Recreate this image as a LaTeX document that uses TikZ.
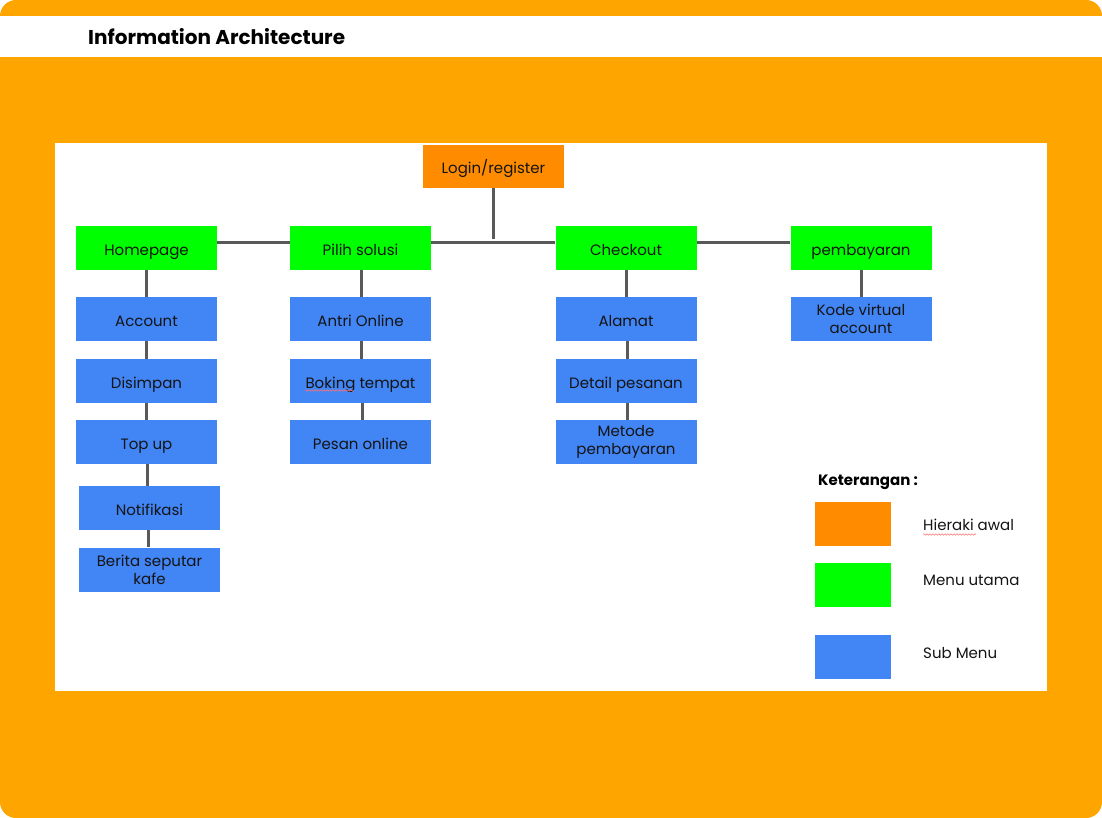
\documentclass[tikz,border=0pt]{standalone}
\usepackage{fontspec}
\setmainfont{Poppins}
\usetikzlibrary{decorations.pathmorphing}
\definecolor{frame}{HTML}{FFA500}
\definecolor{hier}{HTML}{FF8C00}
\definecolor{menu}{HTML}{00FF00}
\definecolor{sub}{HTML}{4285F4}
\definecolor{conn}{HTML}{595959}
\definecolor{txt}{HTML}{141414}
\begin{document}
\begin{tikzpicture}[x=1pt,y=-1pt,
 box/.style={rectangle, minimum width=141pt, minimum height=44pt, inner sep=0pt, align=center, font=\fontsize{15}{18}\selectfont, text=txt},
 one/.style={text height=15.5pt, text depth=1.5pt},
 hbox/.style={box, fill=hier},
 mbox/.style={box, fill=menu},
 sbox/.style={box, fill=sub},
 link/.style={draw=conn, line width=3pt},
 lgbox/.style={rectangle, minimum width=76pt, minimum height=44pt, inner sep=0pt},
 lgtext/.style={anchor=west, font=\fontsize{15}{18}\selectfont, text=txt, inner sep=0pt},
 squiggle/.style={draw=red!55, line width=0.5pt, decorate, decoration={snake, amplitude=0.8pt, segment length=3pt}}
]
\useasboundingbox (0,0) rectangle (1102,818);
\fill[frame, rounded corners=16pt] (0,0) rectangle (1102,818);
\fill[white] (0,16) rectangle (1102,57);
\node[anchor=west, font=\fontsize{20}{24}\selectfont\bfseries, inner sep=0pt, text=black] (title) at (88,37) {Information Architecture};
\fill[white] (55,143) rectangle (1047,691);

% top level
\node[hbox, one, minimum height=43pt] (login) at (493.5,166.5) {Login/register};
\node[mbox, one] (home) at (146.5,248) {Homepage};
\node[mbox, one] (pilih) at (360.5,248) {Pilih solusi};
\node[mbox, one] (check) at (626,248) {Checkout};
\node[mbox, one] (bayar) at (861,248) {pembayaran};

% homepage column
\node[sbox, one] (acc) at (146.5,319) {Account};
\node[sbox, one] (simpan) at (146.5,381) {Disimpan};
\node[sbox, one] (topup) at (146.5,442) {Top up};
\node[sbox, one] (notif) at (149.5,508) {Notifikasi};
\node[sbox] (berita) at (149.5,569.5) {Berita seputar\\kafe};

% pilih solusi column
\node[sbox, one] (antri) at (360.5,319) {Antri Online};
\node[sbox, one] (boking) at (360.5,381) {Boking tempat};
\node[sbox, one] (pesan) at (360.5,442) {Pesan online};

% checkout column
\node[sbox, one] (alamat) at (626,319) {Alamat};
\node[sbox, one] (detail) at (626,381) {Detail pesanan};
\node[sbox] (metode) at (626,442) {Metode\\pembayaran};

% pembayaran column
\node[sbox] (kode) at (861,319) {Kode virtual\\account};

% connectors
\draw[link] ([yshift=5pt]home.east) -- ([yshift=5pt]pilih.west);
\draw[link] ([yshift=5pt]pilih.east) -- ([yshift=5pt]check.west);
\draw[link] ([yshift=5pt]check.east) -- ([yshift=5pt]bayar.west);
\coordinate (junc) at (493.5,239);
\draw[link] (login.south) -- (junc);

\draw[link] (home.south) -- (acc.north);
\draw[link] (acc.south) -- (simpan.north);
\draw[link] (simpan.south) -- (topup.north);
\draw[link] ([xshift=1pt]topup.south) -- ([xshift=1pt]topup.south |- notif.north);
\draw[link] ([xshift=-1.5pt]notif.south) -- ([xshift=-1.5pt]notif.south |- berita.north);

\draw[link] ([xshift=1pt]pilih.south) -- ([xshift=1pt]antri.north);
\draw[link] ([xshift=1pt]antri.south) -- ([xshift=1pt]boking.north);
\draw[link] ([xshift=1.5pt]boking.south) -- ([xshift=1.5pt]pesan.north);

\draw[link] (check.south) -- (alamat.north);
\draw[link] ([xshift=1pt]alamat.south) -- ([xshift=1pt]detail.north);
\draw[link] ([xshift=1pt]detail.south) -- ([xshift=1pt]metode.north);

\draw[link] (bayar.south) -- (kode.north);

% spell-check marks
\draw[squiggle] (305,390.5) -- (354,390.5);

% legend
\node[anchor=west, font=\fontsize{15}{18}\selectfont\bfseries, inner sep=0pt, text=black] (ket) at (818,482) {Keterangan :};
\node[lgbox, fill=hier] (lg1) at (852.5,524) {};
\node[lgbox, fill=menu] (lg2) at (852.5,585) {};
\node[lgbox, fill=sub] (lg3) at (852.5,656.5) {};
\node[lgtext] (t1) at (923,525) {Hieraki awal};
\node[lgtext] (t2) at (923,580) {Menu utama};
\node[lgtext] (t3) at (923,653) {Sub Menu};
\draw[squiggle] (923,534.5) -- (976,534.5);
\end{tikzpicture}
\end{document}
